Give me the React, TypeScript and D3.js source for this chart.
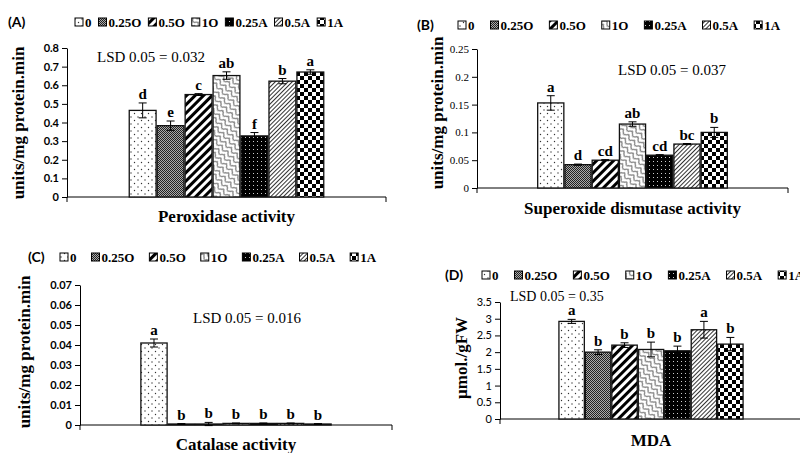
import React, { useEffect, useRef } from "react";
import * as d3 from "d3";

const treatments = ["0", "0.25O", "0.5O", "1O", "0.25A", "0.5A", "1A"];

// Peroxidase
const podMean = [0.465, 0.383, 0.55, 0.652, 0.328, 0.622, 0.671];
const podErr = [0.04, 0.025, 0.005, 0.02, 0.018, 0.014, 0.012];
const podLetters = ["d", "e", "c", "ab", "f", "b", "a"];
const podTicks = [0, 0.1, 0.2, 0.3, 0.4, 0.5, 0.6, 0.7, 0.8];
const podTickLabels = ["0", "0.1", "0.2", "0.3", "0.4", "0.5", "0.6", "0.7", "0.8"];

// Superoxide dismutase
const sodMean = [0.153, 0.042, 0.05, 0.115, 0.059, 0.079, 0.1];
const sodErr = [0.013, 0.001, 0.001, 0.004, 0.001, 0.001, 0.009];
const sodLetters = ["a", "d", "cd", "ab", "cd", "bc", "b"];
const sodTicks = [0, 0.05, 0.1, 0.15, 0.2, 0.25];
const sodTickLabels = ["0", "0.05", "0.1", "0.15", "0.2", "0.25"];

// Catalase
const catMean = [0.041, 0.0005, 0.0005, 0.0008, 0.0008, 0.0008, 0.0005];
const catErr = [0.002, 0.0002, 0.0008, 0.0002, 0.0002, 0.0002, 0.0002];
const catLetters = ["a", "b", "b", "b", "b", "b", "b"];
const catTicks = [0, 0.01, 0.02, 0.03, 0.04, 0.05, 0.06, 0.07];
const catTickLabels = ["0", "0.01", "0.02", "0.03", "0.04", "0.05", "0.06", "0.07"];

// MDA
const mdaMean = [2.92, 2.0, 2.21, 2.08, 2.04, 2.67, 2.24];
const mdaErr = [0.06, 0.07, 0.07, 0.22, 0.14, 0.25, 0.2];
const mdaLetters = ["a", "b", "b", "b", "b", "a", "b"];
const mdaTicks = [0, 0.5, 1, 1.5, 2, 2.5, 3, 3.5];
const mdaTickLabels = ["0", "0.5", "1", "1.5", "2", "2.5", "3", "3.5"];

const serif = "'Liberation Serif', 'Times New Roman', serif";
const sans = "Lato, 'Open Sans', sans-serif";

const panels = [
  {
    tag: "(A)", tagX: 8, tagY: 27, legX: 75, legY: 27, legGap: 7,
    x0: 67, x1: 386, yTop: 48, yBot: 197,
    mean: podMean, err: podErr, letters: podLetters, ticks: podTicks, tickLabels: podTickLabels,
    tickFont: sans, tickWeight: 700,
    lsd: "LSD 0.05 = 0.032", lsdSize: 15, lsdX: 97, lsdY: 62,
    yTitle: "units/mg protein.min", yTitleX: 18, yTitleY: 123,
    xTitle: "Peroxidase activity", xTitleY: 222,
  },
  {
    tag: "(B)", tagX: 417, tagY: 30, legX: 458, legY: 30, legGap: 16,
    x0: 477, x1: 788, yTop: 49, yBot: 188,
    mean: sodMean, err: sodErr, letters: sodLetters, ticks: sodTicks, tickLabels: sodTickLabels,
    tickFont: serif, tickWeight: 400,
    lsd: "LSD 0.05 = 0.037", lsdSize: 15, lsdX: 618, lsdY: 75,
    yTitle: "units/mg protein.min", yTitleX: 437, yTitleY: 113,
    xTitle: "Superoxide dismutase activity", xTitleY: 214,
  },
  {
    tag: "(C)", tagX: 28, tagY: 262, legX: 60, legY: 262, legGap: 15,
    x0: 80, x1: 392, yTop: 285, yBot: 425,
    mean: catMean, err: catErr, letters: catLetters, ticks: catTicks, tickLabels: catTickLabels,
    tickFont: sans, tickWeight: 700,
    lsd: "LSD 0.05 = 0.016", lsdSize: 15, lsdX: 193, lsdY: 323,
    yTitle: "units/mg protein.min", yTitleX: 24, yTitleY: 352,
    xTitle: "Catalase activity", xTitleY: 450,
  },
  {
    tag: "(D)", tagX: 445, tagY: 280, legX: 482, legY: 280, legGap: 16,
    x0: 500, x1: 802, yTop: 302, yBot: 419,
    mean: mdaMean, err: mdaErr, letters: mdaLetters, ticks: mdaTicks, tickLabels: mdaTickLabels,
    tickFont: sans, tickWeight: 400,
    lsd: "LSD 0.05 = 0.35", lsdSize: 14, lsdX: 510, lsdY: 301,
    yTitle: "\u00b5mol./gFW", yTitleX: 461, yTitleY: 358,
    xTitle: "MDA", xTitleY: 446,
  },
];

function addPatterns(defs: any) {
  // 0: sparse dots
  let p = defs.append("pattern").attr("id", "pat0").attr("patternUnits", "userSpaceOnUse")
    .attr("width", 7).attr("height", 7);
  p.append("rect").attr("width", 7).attr("height", 7).attr("fill", "#fff");
  p.append("circle").attr("cx", 1.5).attr("cy", 1.5).attr("r", 0.7).attr("fill", "#333");
  p.append("circle").attr("cx", 5).attr("cy", 5).attr("r", 0.7).attr("fill", "#333");

  // 1: dense gray
  p = defs.append("pattern").attr("id", "pat1").attr("patternUnits", "userSpaceOnUse")
    .attr("width", 2).attr("height", 2);
  p.append("rect").attr("width", 2).attr("height", 2).attr("fill", "#aaa");
  p.append("rect").attr("width", 1).attr("height", 1).attr("fill", "#222");
  p.append("rect").attr("x", 1).attr("y", 1).attr("width", 1).attr("height", 1).attr("fill", "#222");

  // 2: wide diagonal
  p = defs.append("pattern").attr("id", "pat2").attr("patternUnits", "userSpaceOnUse")
    .attr("width", 6).attr("height", 6).attr("patternTransform", "rotate(45)");
  p.append("rect").attr("width", 6).attr("height", 6).attr("fill", "#fff");
  p.append("rect").attr("width", 3).attr("height", 6).attr("fill", "#000");

  // 3: zigzag
  p = defs.append("pattern").attr("id", "pat3").attr("patternUnits", "userSpaceOnUse")
    .attr("width", 8).attr("height", 5).attr("patternTransform", "rotate(45)");
  p.append("rect").attr("width", 8).attr("height", 5).attr("fill", "#fff");
  p.append("path").attr("d", "M0,4.5 L4,0.5 L8,4.5").attr("fill", "none")
    .attr("stroke", "#000").attr("stroke-width", 0.9);

  // 4: black with white dots
  p = defs.append("pattern").attr("id", "pat4").attr("patternUnits", "userSpaceOnUse")
    .attr("width", 4).attr("height", 4);
  p.append("rect").attr("width", 4).attr("height", 4).attr("fill", "#000");
  p.append("rect").attr("x", 1).attr("y", 1).attr("width", 1).attr("height", 1).attr("fill", "#ccc");

  // 5: thin diagonal
  p = defs.append("pattern").attr("id", "pat5").attr("patternUnits", "userSpaceOnUse")
    .attr("width", 3).attr("height", 3).attr("patternTransform", "rotate(45)");
  p.append("rect").attr("width", 3).attr("height", 3).attr("fill", "#fff");
  p.append("rect").attr("width", 1).attr("height", 3).attr("fill", "#333");

  // 6: checkerboard
  p = defs.append("pattern").attr("id", "pat6").attr("patternUnits", "userSpaceOnUse")
    .attr("width", 8).attr("height", 8);
  p.append("rect").attr("width", 8).attr("height", 8).attr("fill", "#fff");
  p.append("rect").attr("width", 4).attr("height", 4).attr("fill", "#000");
  p.append("rect").attr("x", 4).attr("y", 4).attr("width", 4).attr("height", 4).attr("fill", "#000");
}

function App() {
  const ref = useRef<SVGSVGElement>(null);

  useEffect(() => {
    const svg = d3.select(ref.current);
    svg.selectAll("*").remove();
    addPatterns(svg.append("defs"));

    panels.forEach((pn) => {
      const g = svg.append("g");

      const y = d3.scaleLinear()
        .domain([0, pn.ticks[pn.ticks.length - 1]])
        .range([pn.yBot, pn.yTop]);
      const outer = d3.scaleBand().domain([pn.xTitle]).range([pn.x0, pn.x1])
        .paddingOuter(0.32).paddingInner(0);
      const gx = outer(pn.xTitle) as number;
      const x = d3.scaleBand().domain(treatments).range([gx, gx + outer.bandwidth()])
        .paddingInner(0.04);

      // panel tag
      g.append("text").attr("x", pn.tagX).attr("y", pn.tagY)
        .attr("font-family", sans).attr("font-weight", 700).attr("font-size", 14)
        .text(pn.tag);

      // legend
      let lx = pn.legX;
      treatments.forEach((t, i) => {
        g.append("rect").attr("x", lx).attr("y", pn.legY - 9).attr("width", 8).attr("height", 8)
          .attr("fill", `url(#pat${i})`).attr("stroke", "#000").attr("stroke-width", 1);
        const tx = g.append("text").attr("x", lx + 10).attr("y", pn.legY)
          .attr("font-family", serif).attr("font-weight", 700).attr("font-size", 13)
          .text(t);
        const w = (tx.node() as SVGTextElement).getComputedTextLength();
        lx = lx + 10 + w + pn.legGap;
      });

      // y axis
      const ya = g.append("g").attr("transform", `translate(${pn.x0},0)`)
        .call(d3.axisLeft(y).tickValues(pn.ticks).tickSize(5).tickSizeOuter(0)
          .tickFormat((_d: any, i: number) => pn.tickLabels[i]));
      ya.selectAll("text").attr("font-family", pn.tickFont).attr("font-weight", pn.tickWeight)
        .attr("font-size", 11).attr("fill", "#000");
      ya.selectAll("line,path").attr("stroke", "#000");

      // x axis line
      g.append("line").attr("x1", pn.x0).attr("x2", pn.x1).attr("y1", pn.yBot).attr("y2", pn.yBot)
        .attr("stroke", "#000");
      [pn.x0, pn.x1].forEach((xx) => {
        g.append("line").attr("x1", xx).attr("x2", xx).attr("y1", pn.yBot).attr("y2", pn.yBot + 5)
          .attr("stroke", "#000");
      });

      // bars
      treatments.forEach((t, i) => {
        const bx = x(t) as number;
        const bw = x.bandwidth();
        const v = pn.mean[i];
        const e = pn.err[i];
        g.append("rect").attr("x", bx).attr("y", y(v)).attr("width", bw)
          .attr("height", Math.max(pn.yBot - y(v), 0.8))
          .attr("fill", `url(#pat${i})`).attr("stroke", "#111").attr("stroke-width", 1.3);
        const cx = bx + bw / 2;
        g.append("line").attr("x1", cx).attr("x2", cx).attr("y1", y(v - e)).attr("y2", y(v + e))
          .attr("stroke", "#000");
        [v - e, v + e].forEach((ev) => {
          g.append("line").attr("x1", cx - 4).attr("x2", cx + 4).attr("y1", y(ev)).attr("y2", y(ev))
            .attr("stroke", "#000");
        });
        g.append("text").attr("x", cx).attr("y", y(v + e) - 4).attr("text-anchor", "middle")
          .attr("font-family", serif).attr("font-weight", 700).attr("font-size", 15)
          .text(pn.letters[i]);
      });

      // LSD
      g.append("text").attr("x", pn.lsdX).attr("y", pn.lsdY)
        .attr("font-family", serif).attr("font-size", pn.lsdSize).text(pn.lsd);

      // axis titles
      g.append("text").attr("transform", `translate(${pn.yTitleX},${pn.yTitleY}) rotate(-90)`)
        .attr("text-anchor", "middle").attr("dominant-baseline", "central")
        .attr("font-family", serif).attr("font-weight", 700).attr("font-size", 17)
        .text(pn.yTitle);
      g.append("text").attr("x", (pn.x0 + pn.x1) / 2).attr("y", pn.xTitleY).attr("text-anchor", "middle")
        .attr("font-family", serif).attr("font-weight", 700).attr("font-size", 17)
        .text(pn.xTitle);
    });
  }, []);

  return (
    <svg ref={ref} width={800} height={453}
      style={{ position: "absolute", left: 0, top: 0, background: "#fff" }} />
  );
}

export default App;
